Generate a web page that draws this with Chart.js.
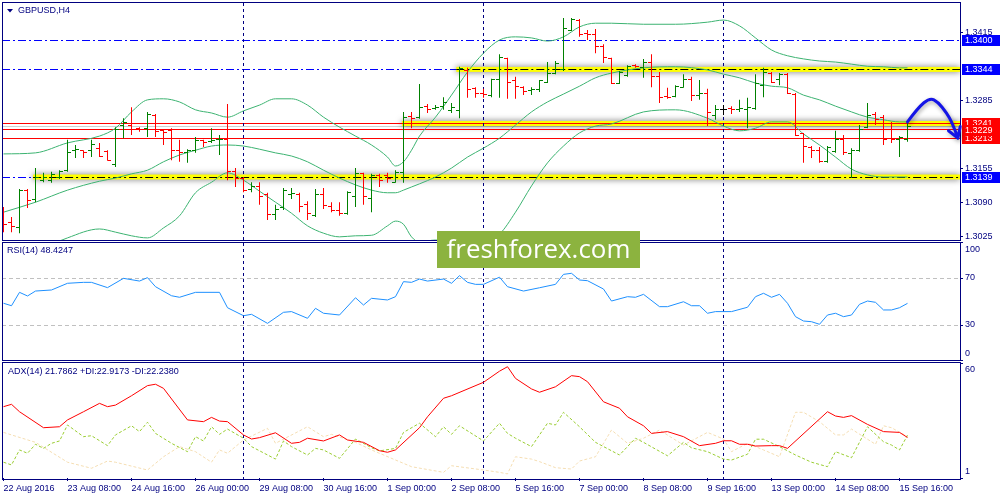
<!DOCTYPE html>
<html>
<head>
<meta charset="utf-8">
<script src="https://cdn.jsdelivr.net/npm/chart.js@4.4.1/dist/chart.umd.min.js"></script>
<style>
    body { margin: 0; background: #fff; width: 1000px; height: 500px; overflow: hidden; position: relative; }
    canvas { position: absolute; left: 0; }
    #mainPane { top: 0; }
    #rsiPane { top: 241px; }
    #adxPane { top: 361px; }
    #logo {
        position: absolute; left: 437px; top: 231px; width: 203px; height: 37px;
        background: #8cb33f; color: #fff; font-family: "Open Sans", sans-serif;
        text-align: center; line-height: 35px; white-space: nowrap;
    }
</style>
</head>
<body>
<canvas id="mainPane" width="1000" height="241"></canvas>
<canvas id="rsiPane" width="1000" height="121"></canvas>
<canvas id="adxPane" width="1000" height="139"></canvas>
<div id="logo">freshforex.com</div>
<script>
// GBPUSD H4, bars 0..113 = 22 Aug 2016 00:00 .. 15 Sep 2016 20:00
const barOpen = [1.3057,1.3053,1.3042,1.3114,1.3097,1.3133,1.3133,1.3139,1.3152,1.3190,
    1.3189,1.3190,1.3194,1.3187,1.3162,1.3238,1.3238,1.3232,1.3232,1.3257,
    1.3227,1.3227,1.3189,1.3185,1.3190,1.3208,1.3206,1.3210,1.3211,1.3150,
    1.3137,1.3116,1.3120,1.3105,1.3067,1.3080,1.3105,1.3105,1.3086,1.3065,
    1.3105,1.3082,1.3076,1.3070,1.3101,1.3145,1.3099,1.3141,1.3141,1.3129,
    1.3147,1.3255,1.3253,1.3274,1.3270,1.3274,1.3265,1.3265,1.3341,1.3307,
    1.3299,1.3295,1.3324,1.3364,1.3322,1.3310,1.3303,1.3305,1.3320,1.3337,
    1.3343,1.3419,1.3438,1.3413,1.3410,1.3387,1.3364,1.3318,1.3333,1.3352,
    1.3347,1.3358,1.3331,1.3292,1.3293,1.3310,1.3324,1.3295,1.3299,1.3257,
    1.3267,1.3270,1.3267,1.3267,1.3270,1.3314,1.3337,1.3324,1.3335,1.3297,
    1.3221,1.3196,1.3190,1.3168,1.3187,1.3210,1.3183,1.3190,1.3234,1.3259,
    1.3253,1.3240,1.3211,1.3211];
const barHigh = [1.3082,1.3063,1.3116,1.3116,1.3156,1.3147,1.3149,1.3152,1.3210,1.3200,
    1.3190,1.3210,1.3204,1.3190,1.3234,1.3251,1.3272,1.3234,1.3263,1.3259,
    1.3230,1.3232,1.3210,1.3192,1.3215,1.3210,1.3232,1.3219,1.3278,1.3156,
    1.3139,1.3129,1.3129,1.3109,1.3086,1.3118,1.3118,1.3109,1.3093,1.3116,
    1.3118,1.3091,1.3091,1.3112,1.3156,1.3147,1.3145,1.3145,1.3147,1.3152,
    1.3263,1.3263,1.3316,1.3278,1.3276,1.3291,1.3280,1.3349,1.3347,1.3310,
    1.3307,1.3326,1.3373,1.3366,1.3330,1.3312,1.3310,1.3324,1.3358,1.3360,
    1.3442,1.3442,1.3440,1.3419,1.3421,1.3392,1.3366,1.3341,1.3352,1.3354,
    1.3364,1.3373,1.3339,1.3309,1.3314,1.3335,1.3330,1.3324,1.3307,1.3276,
    1.3276,1.3274,1.3286,1.3290,1.3335,1.3347,1.3339,1.3337,1.3337,1.3299,
    1.3223,1.3198,1.3196,1.3198,1.3227,1.3219,1.3194,1.3238,1.3280,1.3263,
    1.3257,1.3244,1.3217,1.3244];
const barLow = [1.3034,1.3034,1.3032,1.3080,1.3091,1.3129,1.3128,1.3135,1.3149,1.3175,
    1.3175,1.3177,1.3177,1.3170,1.3158,1.3213,1.3219,1.3225,1.3215,1.3215,
    1.3200,1.3171,1.3168,1.3166,1.3185,1.3196,1.3204,1.3181,1.3133,1.3120,
    1.3110,1.3110,1.3086,1.3057,1.3057,1.3076,1.3097,1.3072,1.3057,1.3063,
    1.3078,1.3072,1.3065,1.3067,1.3082,1.3086,1.3072,1.3120,1.3128,1.3128,
    1.3128,1.3232,1.3250,1.3261,1.3267,1.3267,1.3261,1.3251,1.3290,1.3290,
    1.3290,1.3291,1.3290,1.3288,1.3288,1.3295,1.3295,1.3301,1.3318,1.3335,
    1.3341,1.3417,1.3406,1.3400,1.3375,1.3356,1.3316,1.3316,1.3330,1.3347,
    1.3328,1.3310,1.3280,1.3288,1.3291,1.3309,1.3284,1.3286,1.3236,1.3248,
    1.3257,1.3259,1.3263,1.3232,1.3267,1.3291,1.3318,1.3314,1.3297,1.3217,
    1.3166,1.3175,1.3166,1.3166,1.3185,1.3181,1.3137,1.3187,1.3232,1.3238,
    1.3200,1.3204,1.3177,1.3206];
const barClose = [1.3049,1.3044,1.3114,1.3095,1.3139,1.3139,1.3143,1.3150,1.3185,1.3192,
    1.3185,1.3200,1.3179,1.3171,1.3229,1.3242,1.3229,1.3229,1.3259,1.3225,
    1.3223,1.3190,1.3185,1.3190,1.3208,1.3204,1.3208,1.3211,1.3150,1.3137,
    1.3114,1.3120,1.3101,1.3067,1.3078,1.3114,1.3107,1.3082,1.3070,1.3105,
    1.3084,1.3076,1.3069,1.3110,1.3145,1.3101,1.3141,1.3133,1.3137,1.3147,
    1.3253,1.3251,1.3272,1.3267,1.3272,1.3280,1.3272,1.3345,1.3305,1.3299,
    1.3297,1.3324,1.3366,1.3320,1.3312,1.3301,1.3305,1.3322,1.3337,1.3356,
    1.3421,1.3440,1.3410,1.3410,1.3387,1.3366,1.3318,1.3339,1.3349,1.3349,
    1.3358,1.3331,1.3291,1.3290,1.3312,1.3324,1.3295,1.3299,1.3261,1.3267,
    1.3267,1.3267,1.3269,1.3272,1.3318,1.3339,1.3320,1.3335,1.3299,1.3219,
    1.3198,1.3190,1.3168,1.3196,1.3211,1.3185,1.3190,1.3229,1.3257,1.3248,
    1.3210,1.3211,1.3215,1.3236];

// Bollinger bands at these bars
const bbBars = [0,4,8,12,14,16,18,20,22,24,26,28,30,32,34,36,38,40,42,44,46,48,49,50,51,52,54,56,58,60,
    62,64,66,68,70,72,74,76,80,84,88,90,92,94,96,98,100,102,104,106,108,110,112,113];
const bbUpper = [1.3183,1.3185,1.3204,1.3217,1.3232,1.3263,1.3286,1.3288,1.3282,1.3267,1.3261,1.3253,1.3265,1.3276,1.3288,
    1.3288,1.3276,1.3253,1.3234,1.3217,1.3200,1.3177,1.3160,1.3168,1.3190,1.3217,1.3253,1.3295,1.3339,1.3375,
    1.3400,1.3406,1.3404,1.3398,1.3406,1.3425,1.3432,1.3432,1.3430,1.3430,1.3434,1.3438,1.3427,1.3404,1.3381,
    1.3370,1.3364,1.3360,1.3358,1.3354,1.3350,1.3349,1.3347,1.3347];
const bbMiddle = [1.3072,1.3091,1.3114,1.3131,1.3137,1.3145,1.3152,1.3168,1.3181,1.3190,1.3198,1.3200,1.3198,1.3192,1.3185,
    1.3179,1.3168,1.3152,1.3137,1.3124,1.3114,1.3109,1.3109,1.3114,1.3120,1.3126,1.3139,1.3156,1.3177,1.3194,
    1.3213,1.3238,1.3263,1.3282,1.3297,1.3312,1.3328,1.3337,1.3347,1.3349,1.3343,1.3335,1.3328,1.3318,1.3312,
    1.3309,1.3295,1.3286,1.3274,1.3263,1.3253,1.3248,1.3244,1.3244];
const bbLower = [1.2962,1.2996,1.3023,1.3040,1.3034,1.3027,1.3023,1.3042,1.3065,1.3109,1.3129,1.3147,1.3133,1.3112,1.3091,
    1.3070,1.3046,1.3032,1.3025,1.3027,1.3028,1.3046,1.3055,1.3049,1.3025,1.3015,1.3019,1.3015,1.3013,1.3013,
    1.3030,1.3072,1.3122,1.3166,1.3198,1.3223,1.3236,1.3240,1.3263,1.3267,1.3251,1.3236,1.3227,1.3232,1.3244,
    1.3244,1.3221,1.3200,1.3177,1.3154,1.3143,1.3139,1.3139,1.3139];

// RSI(14)
const rsiBars = [0,1,2,3,4,6,8,10,11,13,15,17,18,19,21,22,24,27,28,30,31,33,35,36,38,39,40,42,44,45,
    46,48,49,50,51,52,53,55,56,57,58,59,60,62,63,65,67,69,70,71,72,73,75,76,78,79,80,82,83,85,
    86,87,88,89,91,93,94,95,96,97,98,99,100,101,102,103,104,105,106,107,108,109,110,111,112,113];
const rsiValues = [48.5,46.4,57.8,54.7,58.9,59.8,65.5,66.3,66.3,61.8,69.7,67.4,70.3,62.6,54.9,53.6,57.8,57.8,44.7,37.9,
    39.1,31.4,40.8,41.4,35.7,44.2,40.0,38.5,53.2,47.0,52.7,51.3,54.1,66.9,66.3,69.1,67.4,69.1,65.5,72.0,
    66.3,64.6,64.6,70.7,62.6,58.9,61.7,64.6,73.1,74.0,68.3,67.7,60.6,50.4,54.1,53.6,56.1,45.6,45.6,49.8,
    46.4,46.4,40.0,41.4,41.4,45.1,54.1,57.0,53.6,56.1,48.5,37.1,33.4,32.8,30.6,38.5,40.0,37.1,38.5,47.6,
    50.4,49.3,42.8,42.8,44.7,48.4247];
const rsiLevels = [30, 70];

// ADX(14)
const adxBars = [0,1,2,5,7,8,10,12,13,14,16,18,19,20,23,25,26,27,28,30,31,32,34,36,37,38,40,42,43,45,
    47,48,49,52,53,55,56,60,62,63,64,66,67,69,71,72,73,75,77,78,80,81,83,85,87,89,90,91,92,93,
    94,96,97,98,103,104,105,106,108,110,112,113];
const adxValues = [37.6,38.8,35.0,26.8,27.3,30.8,35.0,39.3,37.6,38.4,43.2,48.4,49.1,47.0,30.8,29.9,32.1,30.2,29.9,23.1,
    21.0,21.7,24.2,18.8,19.3,21.4,20.0,23.1,20.5,19.3,15.0,14.2,15.4,26.8,32.4,41.9,43.2,50.1,55.8,58.1,
    52.1,46.7,45.0,47.8,53.5,53.0,50.4,40.1,36.8,32.4,27.8,23.9,24.8,22.2,17.6,18.8,20.1,20.1,18.3,18.3,
    17.4,17.6,17.6,16.2,35.0,32.8,32.1,33.0,28.5,24.8,24.4,21.7862];
const plusDiBars = [0,1,2,3,4,5,6,7,8,10,11,13,14,16,17,18,19,21,23,24,25,26,27,28,30,31,34,35,36,38,
    39,40,42,44,46,47,49,50,52,54,55,56,57,60,62,63,64,66,68,69,70,72,74,77,79,80,83,85,86,88,
    90,91,93,94,95,97,99,101,103,104,106,108,110,111,112,113];
const plusDiValues = [9.1,7.7,15.4,13.7,18.3,16.2,18.8,20.0,28.2,22.2,22.7,17.6,23.1,27.8,24.8,29.6,23.9,18.8,14.5,22.2,
    20.0,27.3,23.4,26.1,21.4,17.1,10.7,20.0,17.1,12.8,16.2,15.4,11.1,21.0,16.5,14.9,16.2,24.4,29.1,22.2,
    27.3,23.4,27.8,20.0,29.1,23.9,21.4,17.1,29.1,28.2,34.7,27.3,19.3,12.8,21.4,19.3,12.4,19.3,16.5,14.5,
    10.7,10.2,13.2,20.9,20.9,17.1,12.8,9.1,6.8,14.5,11.4,27.3,19.6,17.9,15.4,22.9173];
const minusDiBars = [0,1,4,8,11,13,14,18,20,22,24,26,27,28,30,33,34,38,40,41,44,46,51,55,56,60,62,63,64,66,
    67,69,71,72,74,76,78,80,82,85,88,90,91,93,95,97,99,100,102,104,105,106,109,110,111,113];
const minusDiValues = [24.4,23.1,19.3,9.1,6.0,9.7,9.1,5.1,11.9,17.1,14.5,9.1,15.4,13.7,20.5,26.5,18.8,27.3,22.2,23.4,
    19.3,15.4,6.8,3.9,7.3,5.1,3.9,3.1,11.9,10.7,9.4,6.3,5.6,9.7,11.9,25.6,18.8,21.4,25.6,17.9,
    24.4,21.0,14.5,18.8,15.4,11.9,34.7,34.7,29.9,23.1,23.1,26.1,18.3,27.8,26.8,22.2380];

// axes
const xTickBars = [0,8,16,24,32,40,48,56,64,72,80,88,96,104,112];
const xTickLabels = ['22 Aug 2016','23 Aug 08:00','24 Aug 16:00','26 Aug 00:00','29 Aug 08:00','30 Aug 16:00',
    '1 Sep 00:00','2 Sep 08:00','5 Sep 16:00','7 Sep 00:00','8 Sep 08:00','9 Sep 16:00','13 Sep 00:00',
    '14 Sep 08:00','15 Sep 16:00'];
const weekStartBars = [30, 60, 90];
const priceTicks = [1.3415, 1.3285, 1.3155, 1.3090, 1.3025];
const rsiTicks = [0, 30, 70, 100];
const adxTicks = [1, 60];

// drawn objects on the price pane
const blueLevels = [1.3400, 1.3344, 1.3139];
const redLevels = [1.3241, 1.3229, 1.3213];
const greyLevel = 1.3236;
const zoneLevels = [1.3344, 1.3241, 1.3139];
const zoneFromBar = [56.6, 49.8, 3.7];
const arrowBars = [113, 114.3, 115.8, 116.8, 117.9, 118.6, 119.3];
const arrowPrices = [1.3244, 1.3271, 1.3290, 1.3282, 1.3261, 1.3242, 1.3213];

const NAVY = '#000080';
const FONT = '"Liberation Sans", Arial, sans-serif';
const UP = '#008000', DOWN = '#ff0000', FLAT = '#000000';
const DASH_DOT = [8, 3, 2, 3];
const xMin = -0.1875, xMax = 119.5625;

const barColors = barOpen.map((o, i) => barClose[i] > o ? UP : (barClose[i] < o ? DOWN : FLAT));

// little 7x1 images used as point styles for the open / close ticks
const tickCache = {};
function tickImage(color, side) {
    const key = color + side;
    if (!tickCache[key]) {
        const c = document.createElement('canvas');
        c.width = 7;
        c.height = 1;
        const g = c.getContext('2d');
        g.fillStyle = color;
        g.fillRect(side === 'open' ? 0 : 4, 0, 3, 1);
        tickCache[key] = c;
    }
    return tickCache[key];
}

function points(xs, ys) {
    return xs.map((x, i) => ({x: x, y: ys[i]}));
}

function xAxis(show) {
    return {
        type: 'linear', min: xMin, max: xMax, display: show, offset: false,
        afterBuildTicks: s => { s.ticks = xTickBars.map(v => ({value: v})); },
        afterFit: s => {
            s.paddingLeft = 0;
            s.paddingRight = 0;
            if (show) s.height = 22;
        },
        ticks: {
            autoSkip: false, maxRotation: 0, minRotation: 0, align: 'start', padding: 2,
            color: NAVY, font: {family: FONT, size: 9},
            callback: (v, i) => xTickLabels[i]
        },
        grid: {offset: false, drawOnChartArea: false, tickLength: 3, tickColor: NAVY},
        border: {display: false}
    };
}

// the tiny lineHeight keeps the end labels from pushing the plot area inwards
function yAxis(min, max, tickValues, labelFn, grid, dash) {
    return {
        position: 'right', min: min, max: max, beginAtZero: false,
        afterBuildTicks: s => { s.ticks = tickValues.map(v => ({value: v})); },
        afterFit: s => {
            s.width = 40;
            s.paddingTop = 0;
            s.paddingBottom = 0;
        },
        ticks: {padding: 2, color: NAVY, font: {family: FONT, size: 9, lineHeight: 0.1}, callback: labelFn},
        grid: grid,
        border: {display: false, dash: dash || []}
    };
}

function hline(ctx, x0, x1, y, color, dash) {
    ctx.strokeStyle = color;
    ctx.setLineDash(dash);
    ctx.beginPath();
    ctx.moveTo(x0, y);
    ctx.lineTo(x1, y);
    ctx.stroke();
}

function drawSeparators(chart, top, bottom) {
    const ctx = chart.ctx;
    ctx.save();
    ctx.lineWidth = 1;
    ctx.strokeStyle = NAVY;
    ctx.setLineDash([3, 3]);
    weekStartBars.forEach(b => {
        const px = Math.floor(chart.scales.x.getPixelForValue(b)) + 0.5;
        ctx.beginPath();
        ctx.moveTo(px, top);
        ctx.lineTo(px, bottom);
        ctx.stroke();
    });
    ctx.restore();
}

function drawFrame(chart, top, bottom) {
    const ctx = chart.ctx;
    ctx.save();
    ctx.lineWidth = 1;
    ctx.strokeStyle = NAVY;
    ctx.strokeRect(2.5, top + 0.5, 958, bottom - top);
    ctx.restore();
}

function drawText(chart, text, x, y) {
    const ctx = chart.ctx;
    ctx.save();
    ctx.fillStyle = NAVY;
    ctx.font = '9px ' + FONT;
    ctx.textBaseline = 'middle';
    ctx.textAlign = 'left';
    ctx.fillText(text, x, y);
    ctx.restore();
}

// first and last scale labels are kept inside the pane, like the terminal does
function drawEdgeLabels(chart, values) {
    const a = chart.chartArea;
    const y = chart.scales.y;
    values.forEach(v => {
        const py = Math.min(Math.max(y.getPixelForValue(v), a.top + 6.5), a.bottom - 6.5);
        drawText(chart, String(v), a.right + 5, py);
    });
}

function baseOptions(padding, scales) {
    return {
        responsive: false,
        animation: false,
        devicePixelRatio: 1,
        events: [],
        layout: {autoPadding: false, padding: padding},
        plugins: {legend: {display: false}, tooltip: {enabled: false}},
        scales: scales
    };
}

// ---------- price pane ----------
const mainDecor = {
    id: 'mainDecor',
    beforeDatasetsDraw(chart) {
        const {ctx, chartArea: a, scales: {x, y}} = chart;
        const rowOf = v => Math.floor(y.getPixelForValue(v)) + 0.5;
        ctx.imageSmoothingEnabled = false;
        ctx.save();
        ctx.beginPath();
        ctx.rect(a.left, a.top, a.right - a.left, a.bottom - a.top);
        ctx.clip();
        ctx.lineWidth = 1;
        hline(ctx, a.left, a.right, rowOf(greyLevel), '#cfcfcf', []);
        blueLevels.forEach(v => hline(ctx, a.left, a.right, rowOf(v), '#0000ff', DASH_DOT));
        zoneLevels.forEach((v, i) => {
            const x0 = x.getPixelForValue(zoneFromBar[i]);
            ctx.save();
            ctx.shadowColor = 'rgba(0,0,0,0.55)';
            ctx.shadowBlur = 6;
            ctx.fillStyle = '#ffff00';
            ctx.fillRect(x0, y.getPixelForValue(v) - 2.5, a.right - x0, 5);
            ctx.restore();
        });
        redLevels.forEach(v => hline(ctx, a.left, a.right, rowOf(v), '#ff0000', []));
        zoneLevels.forEach((v, i) => {
            if (!redLevels.includes(v)) {
                hline(ctx, x.getPixelForValue(zoneFromBar[i]), a.right, rowOf(v), '#000000', DASH_DOT);
            }
        });
        ctx.restore();
        drawSeparators(chart, 3, 240);
    },
    afterDraw(chart) {
        const {ctx, chartArea: a, scales: {x, y}} = chart;
        drawFrame(chart, 2, 240);

        // symbol caption
        ctx.save();
        ctx.fillStyle = NAVY;
        ctx.beginPath();
        ctx.moveTo(7, 9);
        ctx.lineTo(13, 9);
        ctx.lineTo(10, 12.5);
        ctx.closePath();
        ctx.fill();
        ctx.restore();
        drawText(chart, 'GBPUSD,H4', 18, 10.5);

        // price labels of the drawn levels
        const boxes = blueLevels.map(v => [v, '#0000ff'])
            .concat([[redLevels[0], '#ff0000'], [redLevels[2], '#ff0000'], [redLevels[1], '#ff0000']]);
        boxes.forEach(([v, color]) => {
            const py = y.getPixelForValue(v);
            ctx.save();
            ctx.fillStyle = color;
            ctx.fillRect(a.right + 2, Math.round(py) - 5, 38, 11);
            ctx.fillStyle = '#ffffff';
            ctx.font = '9px ' + FONT;
            ctx.textBaseline = 'middle';
            ctx.fillText(v.toFixed(4), a.right + 5, py + 0.5);
            ctx.restore();
        });

        // forecast arrow
        const pts = arrowBars.map((b, i) => [x.getPixelForValue(b), y.getPixelForValue(arrowPrices[i])]);
        ctx.save();
        ctx.strokeStyle = '#1515e6';
        ctx.lineWidth = 3;
        ctx.lineJoin = 'round';
        ctx.lineCap = 'round';
        ctx.shadowColor = 'rgba(0,0,0,0.35)';
        ctx.shadowBlur = 4;
        ctx.shadowOffsetX = 1;
        ctx.shadowOffsetY = 2;
        ctx.beginPath();
        ctx.moveTo(pts[0][0], pts[0][1]);
        for (let i = 1; i < pts.length - 1; i++) {
            const mx = (pts[i][0] + pts[i + 1][0]) / 2;
            const my = (pts[i][1] + pts[i + 1][1]) / 2;
            ctx.quadraticCurveTo(pts[i][0], pts[i][1], mx, my);
        }
        const tip = pts[pts.length - 1];
        const prev = pts[pts.length - 2];
        ctx.lineTo(tip[0], tip[1]);
        const ang = Math.atan2(tip[1] - prev[1], tip[0] - prev[0]);
        [-0.55, 0.55].forEach(d => {
            ctx.moveTo(tip[0], tip[1]);
            ctx.lineTo(tip[0] - 12 * Math.cos(ang + d), tip[1] - 12 * Math.sin(ang + d));
        });
        ctx.stroke();
        ctx.restore();
    }
};

new Chart(document.getElementById('mainPane'), {
    type: 'bar',
    data: {
        datasets: [
            {type: 'line', data: points(bbBars, bbUpper), borderColor: '#3cb371', borderWidth: 1,
                pointRadius: 0, cubicInterpolationMode: 'monotone', order: 3},
            {type: 'line', data: points(bbBars, bbMiddle), borderColor: '#3cb371', borderWidth: 1,
                pointRadius: 0, cubicInterpolationMode: 'monotone', order: 3},
            {type: 'line', data: points(bbBars, bbLower), borderColor: '#3cb371', borderWidth: 1,
                pointRadius: 0, cubicInterpolationMode: 'monotone', order: 3},
            {type: 'bar', data: barHigh.map((h, i) => ({x: i, y: [barLow[i], h]})),
                backgroundColor: barColors, borderWidth: 0, barThickness: 1, inflateAmount: 0,
                borderSkipped: false, order: 2},
            {type: 'scatter', data: points(barOpen.map((o, i) => i), barOpen),
                pointStyle: barColors.map(c => tickImage(c, 'open')), pointRadius: 1, order: 1},
            {type: 'scatter', data: points(barClose.map((c, i) => i), barClose),
                pointStyle: barColors.map(c => tickImage(c, 'close')), pointRadius: 1, order: 1}
        ]
    },
    options: baseOptions({left: 2, top: 3, right: 0, bottom: 1}, {
        x: xAxis(false),
        y: yAxis(1.30190, 1.34705, priceTicks, v => v.toFixed(4),
            {drawOnChartArea: false, tickLength: 3, tickColor: NAVY})
    }),
    plugins: [mainDecor]
});

// ---------- RSI pane ----------
new Chart(document.getElementById('rsiPane'), {
    type: 'line',
    data: {
        datasets: [{data: points(rsiBars, rsiValues), borderColor: '#1e90ff', borderWidth: 1, pointRadius: 0}]
    },
    options: baseOptions({left: 2, top: 1.75, right: 0, bottom: 1.75}, {
        x: xAxis(false),
        y: yAxis(0, 100, rsiTicks, v => rsiLevels.includes(v) ? String(v) : '', {
            drawOnChartArea: true, tickLength: 3, tickColor: NAVY,
            color: c => (c.tick && rsiLevels.includes(c.tick.value)) ? '#c0c0c0' : 'rgba(0,0,0,0)'
        }, [4, 3])
    }),
    plugins: [{
        id: 'rsiDecor',
        beforeDatasetsDraw(chart) { drawSeparators(chart, 2, 119); },
        afterDraw(chart) {
            drawFrame(chart, 1, 119);
            drawText(chart, 'RSI(14) 48.4247', 7, 10);
            drawEdgeLabels(chart, [rsiTicks[0], rsiTicks[rsiTicks.length - 1]]);
        }
    }]
});

// ---------- ADX pane ----------
new Chart(document.getElementById('adxPane'), {
    type: 'line',
    data: {
        datasets: [
            {data: points(minusDiBars, minusDiValues), borderColor: '#f5deb3', borderWidth: 1,
                borderDash: [3, 2], pointRadius: 0, order: 2},
            {data: points(plusDiBars, plusDiValues), borderColor: '#9acd32', borderWidth: 1,
                borderDash: [3, 2], pointRadius: 0, order: 1},
            {data: points(adxBars, adxValues), borderColor: '#ff0000', borderWidth: 1, pointRadius: 0, order: 0}
        ]
    },
    options: baseOptions({left: 2, top: 2, right: 0, bottom: 0}, {
        x: xAxis(true),
        y: yAxis(adxTicks[0], adxTicks[1], adxTicks, () => '',
            {drawOnChartArea: false, tickLength: 3, tickColor: NAVY})
    }),
    plugins: [{
        id: 'adxDecor',
        beforeDatasetsDraw(chart) { drawSeparators(chart, 2, 118); },
        afterDraw(chart) {
            drawFrame(chart, 1, 118);
            drawText(chart, 'ADX(14) 21.7862 +DI:22.9173 -DI:22.2380', 8, 10.5);
            drawEdgeLabels(chart, adxTicks);
        }
    }]
});

// fit the watermark text to its box
const logo = document.getElementById('logo');
const measure = document.createElement('canvas').getContext('2d');
measure.font = '30px "Open Sans"';
logo.style.fontSize = (30 * 184 / measure.measureText(logo.textContent).width).toFixed(1) + 'px';
</script>
</body>
</html>
